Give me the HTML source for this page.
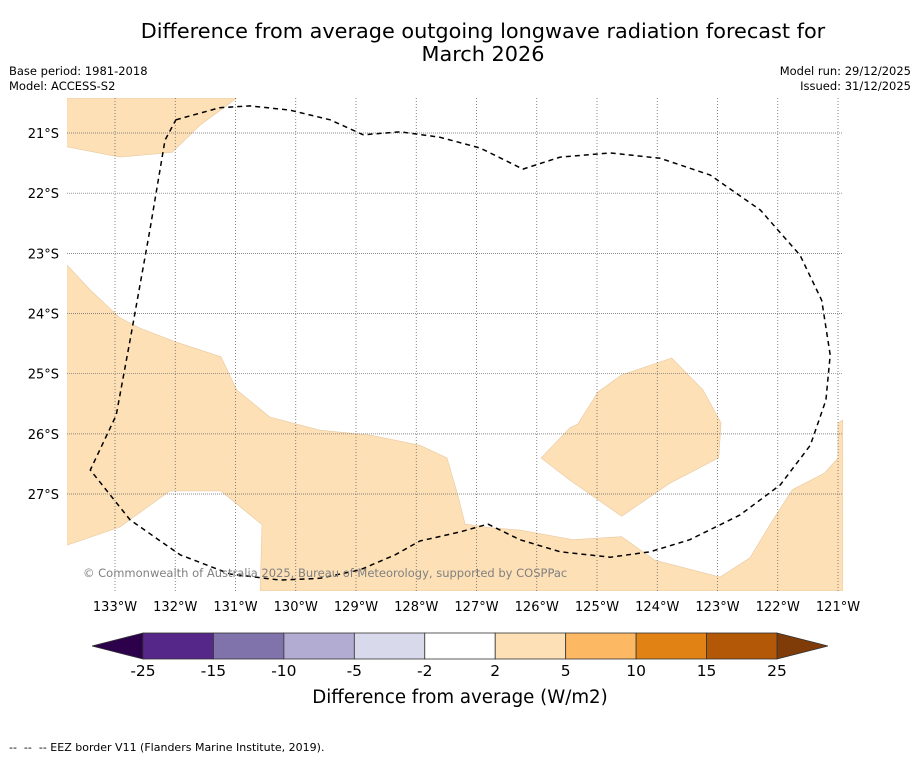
<!DOCTYPE html>
<html><head><meta charset="utf-8"><style>
html,body{margin:0;padding:0;background:#fff;}
body{width:919px;height:758px;overflow:hidden;font-family:"DejaVu Sans","Liberation Sans",sans-serif;}
</style></head><body>
<svg id="chart" width="919" height="758" xmlns="http://www.w3.org/2000/svg" font-family="DejaVu Sans, Liberation Sans, sans-serif">
<text x="483" y="38" font-size="20.8" text-anchor="middle">Difference from average outgoing longwave radiation forecast for</text>
<text x="483" y="61" font-size="20.8" text-anchor="middle">March 2026</text>
<text x="9" y="75" font-size="11.5">Base period: 1981-2018</text>
<text x="9" y="90" font-size="11.5">Model: ACCESS-S2</text>
<text x="911" y="75" font-size="11.5" text-anchor="end">Model run: 29/12/2025</text>
<text x="911" y="90" font-size="11.5" text-anchor="end">Issued: 31/12/2025</text>
<defs><clipPath id="mapclip"><rect x="67" y="98" width="776" height="493"/></clipPath></defs>
<g id="map" clip-path="url(#mapclip)"></g>
<g id="axes"></g>
<text x="83" y="577" font-size="11.5" fill="#808080">© Commonwealth of Australia 2025, Bureau of Meteorology, supported by COSPPac</text>
<g id="cbar"></g>
<text x="460" y="703" font-size="18.2" text-anchor="middle">Difference from average (W/m2)</text>
<text x="9" y="751" font-size="11" style="white-space:pre" xml:space="preserve">--  --  -- EEZ border V11 (Flanders Marine Institute, 2019).</text>
</svg>
<script>
const lonTicks=[-133,-132,-131,-130,-129,-128,-127,-126,-125,-124,-123,-122,-121];
const latTicks=[-21,-22,-23,-24,-25,-26,-27];
const cbLevels=[-25,-15,-10,-5,-2,2,5,10,15,25];
const cbColors=["#542788","#8073ac","#b2abd2","#d8daeb","#ffffff","#fee0b6","#fdb863","#e08214","#b35806"];
const cbLowColor="#2d004b", cbHighColor="#7f3b08";
const landW1Lon=[-133.8,-130.98,-131.59,-132.05,-132.92,-133.8];
const landW1Lat=[-20.42,-20.42,-20.87,-21.32,-21.40,-21.23];
const landMainLon=[-133.8,-133.41,-132.92,-132.59,-132.0,-131.24,-130.98,-130.43,-129.6,-128.77,-127.94,-127.49,-127.31,-127.19,-126.78,-126.28,-125.4,-124.59,-124.04,-122.96,-122.46,-122.13,-121.76,-121.22,-121.0,-121.0,-120.92,-120.92,-130.59,-130.56,-131.24,-132.09,-132.92,-133.8];
const landMainLat=[-23.19,-23.61,-24.07,-24.24,-24.47,-24.72,-25.27,-25.72,-25.94,-26.02,-26.19,-26.40,-27.02,-27.50,-27.56,-27.60,-27.76,-27.71,-28.10,-28.38,-28.06,-27.51,-26.93,-26.65,-26.40,-25.82,-25.77,-28.61,-28.61,-27.51,-26.95,-26.95,-27.55,-27.85];
const landIslLon=[-125.93,-125.45,-125.32,-124.98,-124.59,-123.76,-123.24,-122.94,-122.98,-123.79,-124.59,-125.45];
const landIslLat=[-26.40,-25.90,-25.84,-25.30,-25.02,-24.74,-25.27,-25.82,-26.40,-26.82,-27.37,-26.77];
const eezLon=[-131.99,-131.26,-130.76,-130.10,-129.43,-128.88,-128.27,-127.61,-126.94,-126.23,-125.61,-124.78,-123.95,-123.12,-122.29,-121.63,-121.27,-121.13,-121.20,-121.46,-121.96,-122.63,-123.46,-124.12,-124.78,-125.61,-126.28,-126.81,-127.27,-127.94,-128.35,-128.93,-129.60,-130.26,-131.09,-131.92,-132.75,-133.41,-132.98,-132.75,-132.42,-132.17,-131.99];
const eezLat=[-20.78,-20.58,-20.55,-20.62,-20.78,-21.03,-20.98,-21.07,-21.25,-21.60,-21.40,-21.33,-21.42,-21.70,-22.28,-23.03,-23.78,-24.69,-25.44,-26.19,-26.85,-27.35,-27.76,-27.96,-28.05,-27.96,-27.76,-27.50,-27.63,-27.78,-28.01,-28.26,-28.40,-28.43,-28.33,-28.01,-27.43,-26.60,-25.69,-24.44,-22.61,-21.12,-20.78];

const NS="http://www.w3.org/2000/svg";
const X=lon=>115+(lon+133)*60.25;
const Y=lat=>133+(-21-lat)*60.17;
function mk(tag,attrs,parent){const e=document.createElementNS(NS,tag);for(const k in attrs)e.setAttribute(k,attrs[k]);parent.appendChild(e);return e;}
const map=document.getElementById('map'),axes=document.getElementById('axes'),cbar=document.getElementById('cbar');
function poly(lons,lats,name,fill,stroke,dash){
  const pts=lons.map((l,i)=>X(l).toFixed(1)+","+Y(lats[i]).toFixed(1)).join(" ");
  const p=mk(dash?'polyline':'polygon',{points:pts,fill:fill,stroke:stroke,'stroke-width':dash?1.5:0.6,'stroke-linejoin':'round'},map);
  if(dash)p.setAttribute('stroke-dasharray','5,4');
  
  
}
poly(landW1Lon,landW1Lat,'anomaly-region-nw',"#fee0b6","#e8c8a0");
poly(landMainLon,landMainLat,'anomaly-region-south',"#fee0b6","#e8c8a0");
poly(landIslLon,landIslLat,'anomaly-region-east',"#fee0b6","#e8c8a0");
lonTicks.forEach(l=>{
  const g=mk('line',{x1:X(l),x2:X(l),y1:98,y2:591,stroke:"#666",'stroke-width':0.8,'stroke-dasharray':'1,2'},map);
  
  
  const t=mk('text',{x:X(l),y:611,'font-size':13,'text-anchor':'middle'},axes);
  t.textContent=Math.abs(l)+"°W";
  
  
});
latTicks.forEach(l=>{
  const g=mk('line',{x1:67,x2:843,y1:Y(l),y2:Y(l),stroke:"#666",'stroke-width':0.7,'stroke-dasharray':'1,1'},map);
  
  
  const t=mk('text',{x:59,y:Y(l)+5,'font-size':13,'text-anchor':'end'},axes);
  t.textContent=Math.abs(l)+"°S";
  
  
});
poly(eezLon,eezLat,'eez-border',"none","#000",true);
const cbX0=143,cbX1=777,cbY=633,cbH=26,n=cbColors.length,w=(cbX1-cbX0)/n;
const lo=mk('polygon',{points:`${cbX0},${cbY} 92,${cbY+cbH/2} ${cbX0},${cbY+cbH}`,fill:cbLowColor,stroke:"#333",'stroke-width':0.8},cbar);


const hi=mk('polygon',{points:`${cbX1},${cbY} 828,${cbY+cbH/2} ${cbX1},${cbY+cbH}`,fill:cbHighColor,stroke:"#333",'stroke-width':0.8},cbar);


cbColors.forEach((c,i)=>{
  const r=mk('rect',{x:cbX0+i*w,y:cbY,width:w,height:cbH,fill:c,stroke:"#333",'stroke-width':0.8},cbar);
  
  
});
cbLevels.forEach((v,i)=>{
  const t=mk('text',{x:cbX0+i*w,y:676,'font-size':15.5,'text-anchor':'middle'},cbar);
  t.textContent=v;
  
  
});
</script>
</body></html>
